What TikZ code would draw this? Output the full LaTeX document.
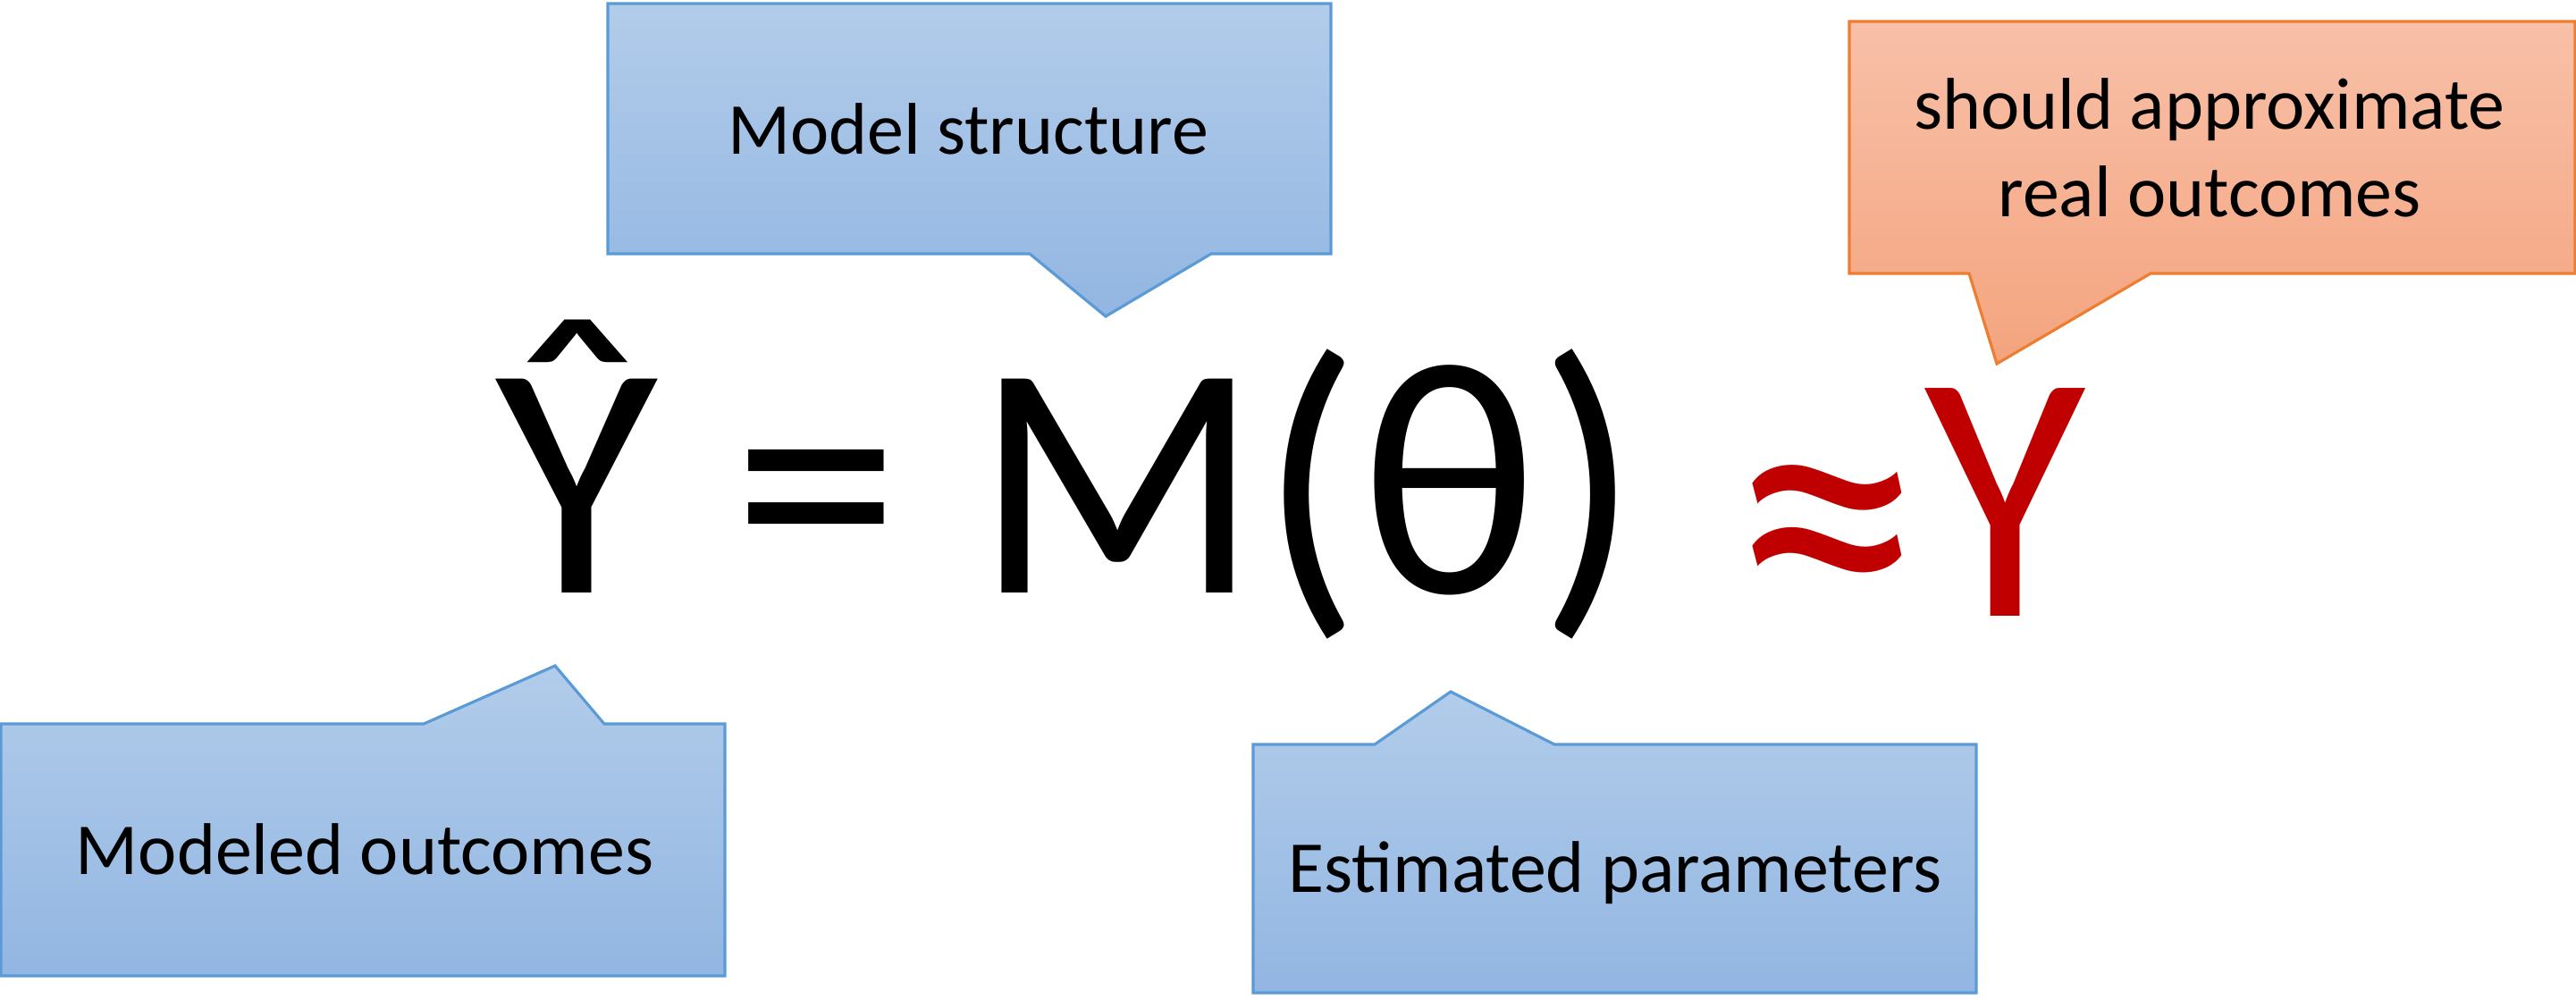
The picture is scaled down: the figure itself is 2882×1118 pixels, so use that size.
\documentclass[tikz,border=0pt]{standalone}
\usepackage{fontspec}
\setmainfont{Carlito}
\usetikzlibrary{calc,positioning}

\definecolor{calloutblue}{HTML}{5B9BD5}
\definecolor{bluetop}{HTML}{B2CCEA}
\definecolor{bluebottom}{HTML}{92B6E2}
\definecolor{calloutorange}{HTML}{ED7D31}
\definecolor{orangetop}{HTML}{F8C0A8}
\definecolor{orangebottom}{HTML}{F4A47E}
\definecolor{darkred}{HTML}{C00000}

\begin{document}
\begin{tikzpicture}[x=0.01cm,y=-0.01cm]
        \useasboundingbox (0,0) rectangle (2882,1118);

          \tikzstyle{bcall} = [draw=calloutblue, line width=0.9pt, top color=bluetop, bottom color=bluebottom]
          \tikzstyle{ocall} = [draw=calloutorange, line width=0.9pt, top color=orangetop, bottom color=orangebottom]
          \tikzstyle{ctext} = [anchor=base, inner sep=0pt, align=center, font=\fontsize{23.3}{27.9}\selectfont]
          \tikzstyle{eqtext} = [anchor=base west, inner sep=0pt, font=\fontsize{106.1}{120}\selectfont]

          % callouts
          \draw[bcall] (680,4) -- (1489,4) -- (1489,284) -- (1355,284) -- (1237,354)
                       -- (1152,284) -- (680,284) -- cycle;
          \draw[ocall] (2069,24) -- (2881,24) -- (2881,306) -- (2406,306) -- (2234,407)
                       -- (2203,306) -- (2069,306) -- cycle;
          \draw[bcall] (1,810) -- (474,810) -- (621,745) -- (676,810) -- (811,810)
                       -- (811,1092) -- (1,1092) -- cycle;
          \draw[bcall] (1402,833) -- (1538,833) -- (1623,774) -- (1739,833) -- (2211,833)
                       -- (2211,1111) -- (1402,1111) -- cycle;

          \node[ctext] (ms) at (1083,172) {Model structure};
          \node[ctext] (sa) at (2472,144) {should approximate};
          \node[ctext] (ro) at (2472,242) {real outcomes};
          \node[ctext] (mo) at (408,978) {Modeled outcomes};
          \node[ctext] (ep) at (1807,998) {Estimated parameters};

          % equation
          \node[eqtext] (lhs) at (554,663) {Ŷ = M(θ)};
          \node[eqtext, text=darkred, font=\fontsize{113}{130}\selectfont] (rhs) at (1935,689)
               {\raisebox{-0.3cm}{\scalebox{1.1}{≈}}\scalebox{0.93}[1]{Y}};

\end{tikzpicture}
\end{document}
